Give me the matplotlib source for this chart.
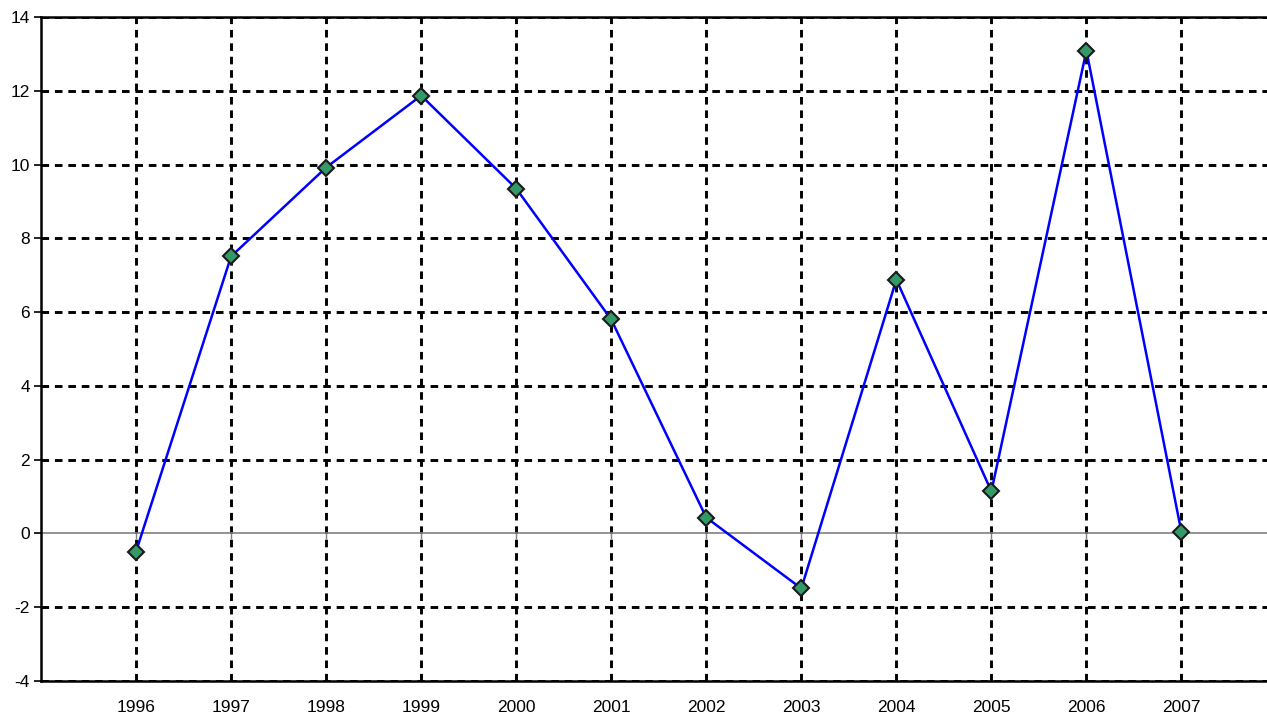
import numpy as np
import matplotlib.pyplot as plt

plt.rcParams['font.family'] = ['Liberation Sans', 'DejaVu Sans']

years = ['1996', '1997', '1998', '1999', '2000', '2001',
         '2002', '2003', '2004', '2005', '2006', '2007']
values = [-0.49, 7.51, 9.92, 11.87, 9.35, 5.80,
          0.43, -1.49, 6.88, 1.14, 13.09, 0.03]
yticks = [-4, -2, 0, 2, 4, 6, 8, 10, 12, 14]

fig = plt.figure(figsize=(12.67, 7.15), dpi=100)
ax = fig.add_axes([41 / 1267, 1 - 681 / 715, 1 - 41 / 1267, (681 - 17) / 715])

x = np.arange(len(years))

dots = (0, (2.6, 2.0))
for xi in x:
    ax.axvline(xi, color='black', lw=2.1, linestyle=dots, zorder=1)
for yv in yticks:
    if yv == 0:
        continue
    ax.axhline(yv, color='black', lw=2.1, linestyle=dots, zorder=1)

ax.axhline(0, color='#808080', lw=1.2, zorder=2)
ax.vlines(x, -0.15, 0, color='#808080', lw=1.0, zorder=2)

ax.plot(x, values, color='#0000ff', lw=1.8, zorder=3,
        marker='D', markersize=8.5, markerfacecolor='#339966',
        markeredgecolor='#1a1a1a', markeredgewidth=1.5)

ax.set_xlim(-1, 11.9)
ax.set_ylim(-4, 14)
ax.set_yticks(yticks)
ax.set_yticklabels([str(v) for v in yticks], fontsize=12.5)
ax.set_xticks(x)
ax.set_xticklabels(years, fontsize=12.5)
ax.tick_params(axis='x', length=0, pad=14)
ax.tick_params(axis='y', length=5, width=1.2, pad=3)

for side in ['left', 'top', 'bottom']:
    ax.spines[side].set_linewidth(1.8)
    ax.spines[side].set_color('black')
ax.spines['right'].set_visible(False)

fig.savefig('out.png', dpi=100)
